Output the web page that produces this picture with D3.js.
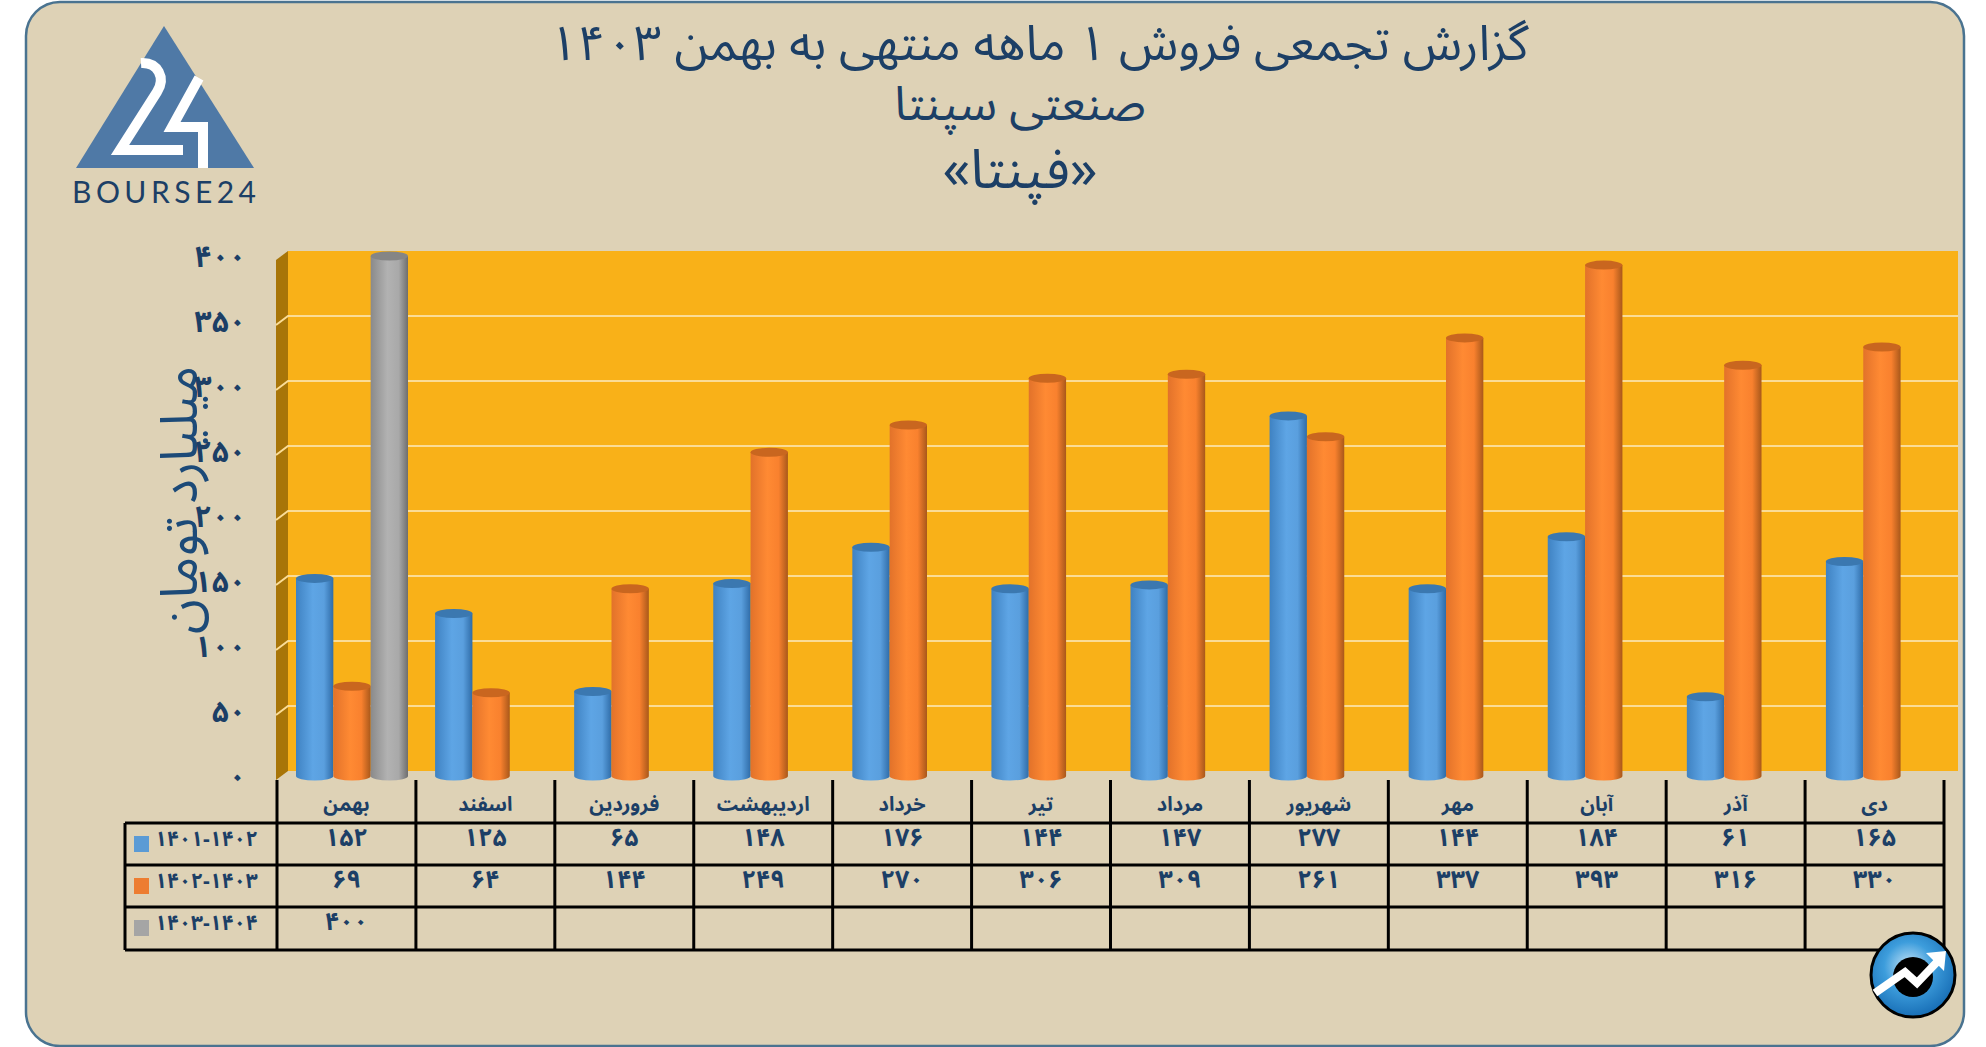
<!DOCTYPE html>
<html lang="fa"><head><meta charset="utf-8">
<script src="https://cdnjs.cloudflare.com/ajax/libs/d3/7.8.5/d3.min.js"></script>
<style>html,body{margin:0;padding:0;background:#fff;overflow:hidden}svg{display:block}text{font-family:"Noto Sans Arabic","Vazirmatn","DejaVu Sans",sans-serif}</style>
</head><body><svg id="c" width="1986" height="1047"></svg>
<script>
const months=["بهمن","اسفند","فروردین","اردیبهشت","خرداد","تیر","مرداد","شهریور","مهر","آبان","آذر","دی"];
const series1=[152,125,65,148,176,144,147,277,144,184,61,165];
const series2=[69,64,144,249,270,306,309,261,337,393,316,330];
const series3=[400,null,null,null,null,null,null,null,null,null,null,null];
const seriesNames=["۱۴۰۱-۱۴۰۲","۱۴۰۲-۱۴۰۳","۱۴۰۳-۱۴۰۴"];
const yTicks=[0,50,100,150,200,250,300,350,400];
const titleLines=["گزارش تجمعی فروش ۱ ماهه منتهی به بهمن ۱۴۰۳","صنعتی سپنتا","«فپنتا»"];
const yTitle="میلیارد تومان";

const fa=v=>String(v).replace(/\d/g,d=>"۰۱۲۳۴۵۶۷۸۹"[+d]);
const NAVY="#1c3f66";
const svg=d3.select("#c");
const defs=svg.append("defs");
const palette=[
 {id:"gb",stops:["#3f82c2","#5ea5e5","#5a9fde","#2f6ca8"],top:"#3b78b0",sw:"#5b9bd5"},
 {id:"go",stops:["#e2722a","#ff8a33","#f9812e","#a9581a"],top:"#c9661f",sw:"#ed7d31"},
 {id:"gg",stops:["#8a8a8a","#b2b2b2","#a9a9a9","#6e6e6e"],top:"#858585",sw:"#a5a5a5"}];
palette.forEach(p=>{const g=defs.append("linearGradient").attr("id",p.id);
 [0,.45,.75,1].forEach((o,i)=>g.append("stop").attr("offset",o).attr("stop-color",p.stops[i]));});
const rg=defs.append("radialGradient").attr("id","ic").attr("cx",.45).attr("cy",.4).attr("r",.65);
rg.append("stop").attr("offset",0).attr("stop-color","#c9e6f8");
rg.append("stop").attr("offset",.45).attr("stop-color","#3d9ddc");
rg.append("stop").attr("offset",1).attr("stop-color","#1267b0");

// card
svg.append("rect").attr("x",26).attr("y",2).attr("width",1938).attr("height",1044).attr("rx",34)
 .attr("fill","#ded2b6").attr("stroke","#4a7390").attr("stroke-width",2.5);

// title
const tX=[1039,1020,1020],tY=[44,105,171],tS=[49,47.5,54.5];
svg.append("g").selectAll("text").data(titleLines).join("text")
 .attr("x",(d,i)=>tX[i]).attr("y",(d,i)=>tY[i]).attr("dy",".32em").attr("text-anchor","middle")
 .attr("direction","rtl").attr("font-size",(d,i)=>tS[i]).attr("fill",NAVY).text(d=>d);

// logo
const lg=svg.append("g");
lg.append("path").attr("d","M164,26L254,168H76Z").attr("fill","#4f79a6");
lg.append("path").attr("d","M141,63C158,62 166,78 157,92L120,150H183").attr("fill","none").attr("stroke","#fff").attr("stroke-width",10);
lg.append("path").attr("d","M199,78L172,127H203V168").attr("fill","none").attr("stroke","#fff").attr("stroke-width",10);
lg.append("text").attr("x",72).attr("y",203).attr("textLength",184).attr("lengthAdjust","spacing").attr("font-size",30).attr("fill",NAVY).style("font-family","Lato,'DejaVu Sans'").text("BOURSE24");

// scales
const yMax=400;
const yBack=d3.scaleLinear([0,yMax],[771,251]);
const yFront=d3.scaleLinear([0,yMax],[780,260]);
const yBar=d3.scaleLinear([0,yMax],[776,256]);
const xCell=d3.scaleBand(months,[277,1944]);
const xBar=d3.scaleBand(months,[296,1965]);
const xSer=d3.scaleBand([0,1,2],[0,112]);
const BX0=276,BX1=288,BXR=1958;

// walls
const pts=[[BX0,yFront(0)],[BX1,yBack(0)],[BX1,yBack(yMax)],[BX0,yFront(yMax)]];
svg.append("polygon").attr("points",pts.join(" ")).attr("fill","#a87508");
svg.append("rect").attr("x",BX1).attr("y",yBack(yMax)).attr("width",BXR-BX1).attr("height",yBack(0)-yBack(yMax)).attr("fill","#f9b118");
svg.append("g").selectAll("path").data(yTicks.filter(t=>t>0&&t<yMax)).join("path")
 .attr("d",t=>`M${BX0},${yFront(t)}L${BX1},${yBack(t)}H${BXR}`).attr("fill","none")
 .attr("stroke","#fbdc96").attr("stroke-width",2);

// y axis title, then tick labels
svg.append("text").attr("transform","translate(181,500) rotate(-90)").attr("dy",".32em")
 .attr("text-anchor","middle").attr("direction","rtl").attr("font-size",51.5).attr("fill","#1c4a78").text(yTitle);
const ax=svg.append("g").attr("transform","translate(246,-3)")
 .call(d3.axisLeft(yFront).tickValues(yTicks).tickSize(0).tickPadding(0).tickFormat(fa));
ax.select(".domain").remove();
ax.selectAll("text").attr("font-size",30).attr("font-weight","bold").attr("fill",NAVY);

// cylinders
const all=[series1,series2,series3];
const RY=4.5;
const bars=svg.append("g");
months.forEach((m,i)=>{
 all.forEach((s,k)=>{
  const v=s[i]; if(v==null)return;
  const x=xBar(m)+xSer(k),w=xSer.bandwidth(),yt=yBar(v),yb=yBar(0),p=palette[k];
  bars.append("path").attr("d",`M${x},${yt}V${yb}A${w/2},${RY} 0 0 0 ${x+w},${yb}V${yt}Z`).attr("fill",`url(#${p.id})`);
  bars.append("ellipse").attr("cx",x+w/2).attr("cy",yt).attr("rx",w/2).attr("ry",RY).attr("fill",p.top);
 });
});

// table
const rows=[823,865,907,950];
const T=svg.append("g").attr("stroke","#000").attr("stroke-width",3);
const edges=months.map(m=>xCell(m)).concat(xCell.range()[1]);
T.selectAll("line.v").data(edges).join("line").attr("class","v")
 .attr("x1",d=>d).attr("x2",d=>d).attr("y1",780).attr("y2",rows[3]);
T.selectAll("line.h").data(rows).join("line").attr("class","h")
 .attr("x1",125).attr("x2",xCell.range()[1]).attr("y1",d=>d).attr("y2",d=>d);
T.append("line").attr("x1",125).attr("x2",125).attr("y1",rows[0]).attr("y2",rows[3]);

const txt=svg.append("g").attr("fill",NAVY);
txt.selectAll("text.m").data(months).join("text").attr("class","m")
 .attr("x",m=>xCell(m)+xCell.bandwidth()/2).attr("y",805).attr("dy",".32em")
 .attr("text-anchor","middle").attr("direction","rtl").attr("font-size",20).attr("font-weight","bold").text(d=>d);
all.forEach((s,k)=>{
 const g=svg.append("g").attr("fill",NAVY);
 g.selectAll("text").data(s.map((v,i)=>({v,m:months[i]})).filter(d=>d.v!=null)).join("text")
  .attr("x",d=>xCell(d.m)+xCell.bandwidth()/2).attr("y",rows[k]+15).attr("dy",".32em")
  .attr("text-anchor","middle").attr("font-size",25).attr("font-weight","bold").text(d=>fa(d.v));
 svg.append("rect").attr("x",134).attr("y",rows[k]+13).attr("width",15).attr("height",16).attr("fill",palette[k].sw);
 svg.append("text").attr("x",155).attr("y",rows[k]+16).attr("dy",".32em").attr("font-size",21).attr("font-weight","bold").attr("fill",NAVY).text(seriesNames[k]);
});

// badge
const b=svg.append("g").attr("transform","translate(1913,975)");
b.append("circle").attr("r",42).attr("fill","url(#ic)").attr("stroke","#000").attr("stroke-width",3);
b.append("circle").attr("cy",2).attr("r",20).attr("fill","#000");
b.append("path").attr("d","M-38,18L-8,-3L4,8L24,-13").attr("fill","none").attr("stroke","#fff").attr("stroke-width",8);
b.append("path").attr("d","M13,-22L33,-24L31,-4Z").attr("fill","#fff");
</script></body></html>
